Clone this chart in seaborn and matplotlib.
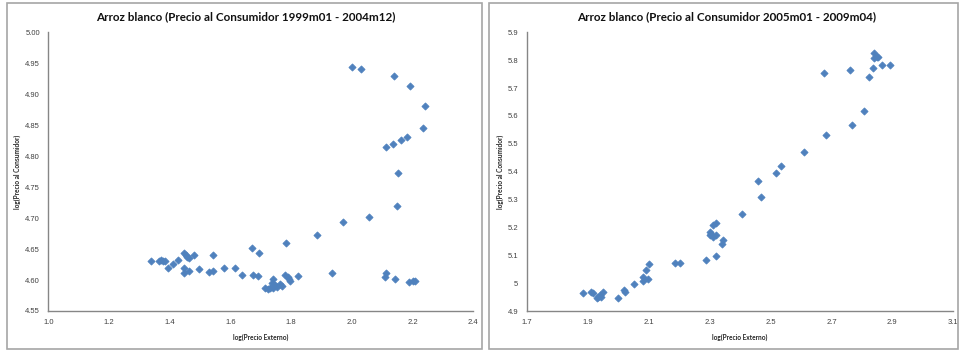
import matplotlib
matplotlib.use("Agg")
import matplotlib.pyplot as plt
from matplotlib.patches import Rectangle
import seaborn as sns
import pandas as pd

# log prices, 1999m01 - 2004m12
externo_1 = [1.338, 1.365, 1.372, 1.378, 1.385, 1.395, 1.410, 1.428, 1.447, 1.452,
             1.458, 1.462, 1.447, 1.447, 1.463, 1.481, 1.497, 1.530, 1.541, 1.543,
             1.579, 1.614, 1.639, 1.672, 1.673, 1.690, 1.694, 1.782, 1.884, 1.714,
             1.725, 1.730, 1.741, 1.736, 1.739, 1.746, 1.752, 1.763, 1.769, 1.780,
             1.789, 1.794, 1.796, 1.824, 1.934, 2.109, 2.114, 2.142, 2.189, 2.200,
             2.208, 1.970, 2.056, 2.148, 2.151, 2.111, 2.136, 2.161, 2.181, 2.233,
             2.241, 2.193, 2.138, 2.029, 2.001]
consumidor_1 = [4.631, 4.631, 4.633, 4.630, 4.631, 4.620, 4.626, 4.632, 4.643, 4.640,
                4.637, 4.635, 4.620, 4.612, 4.615, 4.640, 4.618, 4.613, 4.614, 4.641,
                4.620, 4.620, 4.608, 4.652, 4.608, 4.606, 4.644, 4.659, 4.673, 4.587,
                4.585, 4.587, 4.587, 4.595, 4.602, 4.592, 4.589, 4.593, 4.590, 4.608,
                4.605, 4.602, 4.598, 4.606, 4.612, 4.605, 4.611, 4.602, 4.597, 4.598,
                4.599, 4.693, 4.702, 4.719, 4.773, 4.814, 4.820, 4.826, 4.831, 4.846,
                4.881, 4.914, 4.930, 4.940, 4.944]

# log prices, 2005m01 - 2009m04
externo_2 = [1.885, 1.911, 1.919, 1.930, 1.935, 1.941, 1.949, 1.943, 2.000, 2.019,
             2.023, 2.053, 2.083, 2.083, 2.099, 2.093, 2.101, 2.186, 2.202, 2.288,
             2.322, 2.343, 2.342, 2.302, 2.302, 2.312, 2.321, 2.306, 2.313, 2.321,
             2.408, 2.469, 2.460, 2.518, 2.535, 2.611, 2.683, 2.769, 2.806, 2.677,
             2.761, 2.823, 2.836, 2.841, 2.854, 2.841, 2.849, 2.865, 2.893]
consumidor_2 = [4.966, 4.967, 4.963, 4.946, 4.951, 4.957, 4.967, 4.952, 4.946, 4.975,
                4.968, 4.998, 5.021, 5.009, 5.015, 5.046, 5.067, 5.074, 5.073, 5.082,
                5.098, 5.154, 5.140, 5.184, 5.172, 5.166, 5.172, 5.178, 5.208, 5.216,
                5.248, 5.310, 5.366, 5.395, 5.420, 5.469, 5.530, 5.567, 5.617, 5.754,
                5.764, 5.740, 5.771, 5.806, 5.811, 5.826, 5.812, 5.781, 5.781]

titulos = ["Arroz blanco (Precio al Consumidor 1999m01 - 2004m12)",
           "Arroz blanco (Precio al Consumidor 2005m01 - 2009m04)"]
xticks_1 = [1.0, 1.2, 1.4, 1.6, 1.8, 2.0, 2.2, 2.4]
xlabels_1 = ["1.0", "1.2", "1.4", "1.6", "1.8", "2.0", "2.2", "2.4"]
yticks_1 = [4.55, 4.60, 4.65, 4.70, 4.75, 4.80, 4.85, 4.90, 4.95, 5.00]
ylabels_1 = ["4.55", "4.60", "4.65", "4.70", "4.75", "4.80", "4.85", "4.90", "4.95", "5.00"]
xticks_2 = [1.7, 1.9, 2.1, 2.3, 2.5, 2.7, 2.9, 3.1]
xlabels_2 = ["1.7", "1.9", "2.1", "2.3", "2.5", "2.7", "2.9", "3.1"]
yticks_2 = [4.9, 5.0, 5.1, 5.2, 5.3, 5.4, 5.5, 5.6, 5.7, 5.8, 5.9]
ylabels_2 = ["4.9", "5", "5.1", "5.2", "5.3", "5.4", "5.5", "5.6", "5.7", "5.8", "5.9"]

sns.set_theme(style="white")
plt.rcParams["font.family"] = ["Lato", "DejaVu Sans"]

W, H = 960, 353
fig = plt.figure(figsize=(W / 100, H / 100), dpi=100)
fig.patch.set_facecolor("white")

azul = "#4F81BD"
gris = "#868686"
tick_font = ["Liberation Sans", "DejaVu Sans"]

# chart-area frames
for x0, x1 in [(7, 482), (489, 958)]:
    fig.add_artist(Rectangle((x0 / W, 1 - 349 / H), (x1 - x0) / W, (349 - 3) / H,
                             transform=fig.transFigure, fill=False,
                             edgecolor="#a6a6a6", linewidth=1.2))

paneles = [
    (48.3, 473.3, externo_1, consumidor_1, xticks_1, xlabels_1, yticks_1, ylabels_1, 246),
    (526.7, 953.3, externo_2, consumidor_2, xticks_2, xlabels_2, yticks_2, ylabels_2, 727),
]
top_px, bot_px = 32.3, 311

for i, (l, r, xs, ys, xt, xl, yt, yl, tcx) in enumerate(paneles):
    ax = fig.add_axes([l / W, 1 - bot_px / H, (r - l) / W, (bot_px - top_px) / H])
    df = pd.DataFrame({"externo": xs, "consumidor": ys})
    sns.scatterplot(data=df, x="externo", y="consumidor", ax=ax, marker="D",
                    s=13, color=azul, edgecolor=azul, linewidth=0.6, zorder=3)
    ax.set_xlim(xt[0], xt[-1])
    ax.set_ylim(yt[0], yt[-1])
    ax.set_xticks(xt)
    ax.set_xticklabels(xl, family=tick_font)
    ax.set_yticks(yt)
    ax.set_yticklabels(yl, family=tick_font)
    ax.tick_params(axis="both", length=0, labelsize=5.5, colors="#404040", pad=6)
    for s in ["top", "right"]:
        ax.spines[s].set_visible(False)
    for s in ["left", "bottom"]:
        ax.spines[s].set_color(gris)
        ax.spines[s].set_linewidth(1.0)
    ax.set_xlabel("log(Precio Externo)", fontsize=4.7, fontweight="bold",
                  color="#262626", labelpad=5)
    ax.set_ylabel("log(Precio al Consumidor)", fontsize=4.7, fontweight="bold",
                  color="#262626", labelpad=3)
    ax.set_facecolor("white")
    fig.text(tcx / W, 1 - 17 / H, titulos[i], ha="center", va="center",
             fontsize=8.4, fontweight="bold", color="#111111")

fig.savefig("out.png", dpi=100, facecolor="white")
